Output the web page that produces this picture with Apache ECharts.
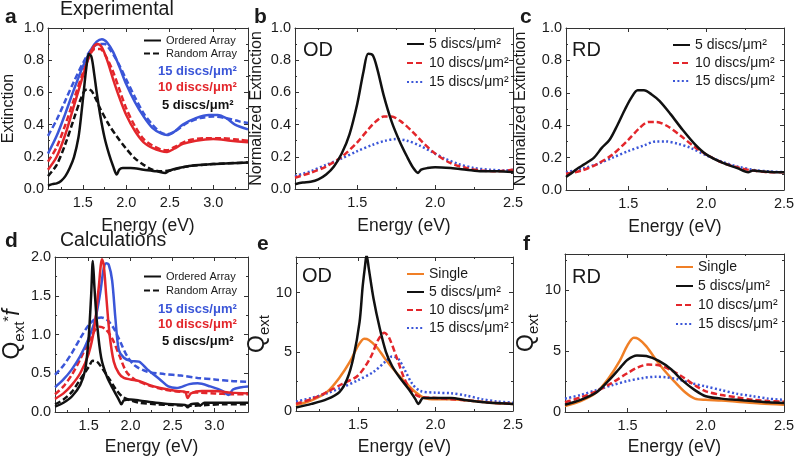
<!DOCTYPE html>
<html><head><meta charset="utf-8">
<script src="https://cdn.jsdelivr.net/npm/echarts@6/dist/echarts.min.js"></script>
<style>html,body{margin:0;padding:0;background:#fff}#c{width:798px;height:457px}</style>
</head><body><div id="c"></div>
<script>
// ---------------- DATA (energy eV, value) ----------------
// Panel a: Experimental extinction
const aOrd5 = [[1.1,0.02],[1.15,0.03],[1.2,0.035],[1.25,0.05],[1.3,0.08],[1.35,0.13],[1.4,0.2],[1.45,0.32],[1.48,0.45],[1.51,0.6],[1.54,0.75],[1.57,0.84],[1.6,0.82],[1.63,0.72],[1.66,0.6],[1.7,0.46],[1.75,0.32],[1.8,0.22],[1.85,0.14],[1.89,0.09],[1.92,0.12],[1.96,0.13],[2.05,0.13],[2.2,0.12],[2.35,0.11],[2.45,0.1],[2.5,0.115],[2.6,0.13],[2.75,0.145],[3.0,0.155],[3.2,0.16],[3.4,0.165]];
const aRand5 = [[1.1,0.08],[1.2,0.15],[1.3,0.28],[1.4,0.44],[1.47,0.55],[1.52,0.61],[1.56,0.62],[1.6,0.61],[1.65,0.56],[1.7,0.5],[1.8,0.4],[1.9,0.32],[2.0,0.25],[2.1,0.19],[2.2,0.15],[2.3,0.12],[2.4,0.11],[2.5,0.115],[2.7,0.14],[3.0,0.155],[3.4,0.165]];
const aOrd10 = [[1.1,0.12],[1.2,0.2],[1.3,0.34],[1.4,0.52],[1.5,0.7],[1.57,0.82],[1.62,0.88],[1.67,0.9],[1.72,0.88],[1.78,0.8],[1.85,0.68],[1.92,0.57],[2.0,0.46],[2.1,0.36],[2.2,0.29],[2.3,0.255],[2.4,0.235],[2.47,0.23],[2.55,0.25],[2.65,0.28],[2.8,0.3],[3.0,0.31],[3.2,0.3],[3.4,0.29]];
const aRand10 = [[1.1,0.17],[1.2,0.26],[1.3,0.4],[1.4,0.56],[1.5,0.72],[1.58,0.83],[1.64,0.87],[1.7,0.87],[1.76,0.83],[1.84,0.74],[1.92,0.62],[2.0,0.5],[2.1,0.39],[2.2,0.31],[2.3,0.27],[2.4,0.245],[2.47,0.24],[2.55,0.26],[2.7,0.3],[2.9,0.315],[3.1,0.315],[3.3,0.305],[3.4,0.3]];
const aOrd15 = [[1.1,0.22],[1.2,0.33],[1.3,0.47],[1.4,0.62],[1.5,0.76],[1.6,0.87],[1.66,0.915],[1.72,0.93],[1.78,0.91],[1.85,0.85],[1.92,0.76],[2.0,0.65],[2.1,0.54],[2.2,0.45],[2.3,0.38],[2.4,0.345],[2.47,0.335],[2.55,0.355],[2.65,0.4],[2.8,0.44],[2.95,0.46],[3.05,0.46],[3.15,0.44],[3.25,0.4],[3.4,0.37]];
const aRand15 = [[1.1,0.33],[1.2,0.43],[1.3,0.55],[1.4,0.67],[1.5,0.78],[1.6,0.87],[1.68,0.9],[1.75,0.9],[1.82,0.86],[1.9,0.79],[2.0,0.68],[2.1,0.57],[2.2,0.47],[2.3,0.4],[2.4,0.35],[2.47,0.34],[2.55,0.355],[2.7,0.41],[2.85,0.44],[3.0,0.45],[3.15,0.44],[3.3,0.42],[3.4,0.41]];
// Panel b: OD normalized
const bOD5 = [[1.1,0.03],[1.15,0.04],[1.2,0.045],[1.25,0.06],[1.3,0.09],[1.35,0.14],[1.4,0.22],[1.45,0.34],[1.5,0.53],[1.54,0.73],[1.57,0.84],[1.6,0.83],[1.63,0.74],[1.67,0.58],[1.72,0.42],[1.77,0.3],[1.82,0.2],[1.86,0.13],[1.89,0.1],[1.91,0.12],[1.95,0.13],[2.0,0.135],[2.1,0.13],[2.2,0.12],[2.3,0.11],[2.4,0.11],[2.5,0.105]];
const bOD10 = [[1.1,0.07],[1.2,0.1],[1.3,0.14],[1.4,0.2],[1.5,0.29],[1.57,0.37],[1.62,0.42],[1.67,0.45],[1.72,0.45],[1.78,0.42],[1.85,0.36],[1.92,0.29],[2.0,0.22],[2.1,0.16],[2.2,0.13],[2.3,0.115],[2.4,0.11],[2.5,0.12]];
const bOD15 = [[1.1,0.08],[1.2,0.11],[1.3,0.15],[1.4,0.19],[1.5,0.235],[1.6,0.275],[1.68,0.3],[1.75,0.31],[1.82,0.3],[1.9,0.27],[1.98,0.23],[2.06,0.19],[2.15,0.155],[2.25,0.13],[2.35,0.12],[2.45,0.115],[2.5,0.12]];
// Panel c: RD normalized
const cRD5 = [[1.1,0.08],[1.13,0.1],[1.17,0.13],[1.22,0.16],[1.28,0.2],[1.33,0.26],[1.38,0.31],[1.43,0.4],[1.48,0.5],[1.52,0.57],[1.56,0.615],[1.6,0.615],[1.65,0.59],[1.7,0.55],[1.77,0.47],[1.85,0.37],[1.93,0.28],[2.0,0.22],[2.1,0.17],[2.2,0.135],[2.27,0.11],[2.3,0.12],[2.35,0.115],[2.45,0.11],[2.5,0.11]];
const cRD10 = [[1.1,0.1],[1.2,0.12],[1.3,0.16],[1.4,0.22],[1.5,0.31],[1.57,0.38],[1.63,0.42],[1.68,0.42],[1.75,0.395],[1.83,0.34],[1.92,0.27],[2.0,0.22],[2.1,0.17],[2.2,0.14],[2.3,0.12],[2.4,0.11],[2.5,0.11]];
const cRD15 = [[1.1,0.11],[1.2,0.13],[1.3,0.16],[1.4,0.2],[1.5,0.24],[1.6,0.275],[1.68,0.3],[1.74,0.3],[1.82,0.285],[1.9,0.26],[2.0,0.215],[2.1,0.175],[2.2,0.145],[2.3,0.125],[2.4,0.115],[2.5,0.11]];
// Panel d: calculated Qext*f
const dOrd5 = [[1.1,0.07],[1.2,0.12],[1.3,0.2],[1.4,0.35],[1.46,0.55],[1.5,0.95],[1.53,1.5],[1.55,1.95],[1.57,1.6],[1.6,1.15],[1.65,0.7],[1.72,0.45],[1.8,0.28],[1.86,0.16],[1.89,0.1],[1.92,0.15],[2.0,0.16],[2.1,0.15],[2.3,0.12],[2.5,0.1],[2.65,0.09],[2.68,0.06],[2.72,0.1],[2.8,0.11],[2.83,0.085],[2.88,0.12],[3.0,0.12],[3.4,0.12]];
const dRand5 = [[1.1,0.1],[1.2,0.16],[1.3,0.26],[1.4,0.42],[1.5,0.58],[1.55,0.66],[1.6,0.65],[1.67,0.55],[1.75,0.42],[1.82,0.3],[1.9,0.2],[2.0,0.15],[2.1,0.12],[2.3,0.1],[2.5,0.09],[2.7,0.08],[2.9,0.09],[3.1,0.1],[3.4,0.1]];
const dOrd10 = [[1.1,0.17],[1.2,0.24],[1.3,0.35],[1.4,0.5],[1.5,0.75],[1.57,1.1],[1.62,1.6],[1.66,1.97],[1.68,1.9],[1.71,1.5],[1.75,1.0],[1.8,0.65],[1.86,0.5],[1.92,0.44],[2.0,0.42],[2.1,0.4],[2.25,0.34],[2.4,0.3],[2.55,0.27],[2.65,0.26],[2.68,0.18],[2.72,0.24],[2.85,0.27],[3.0,0.27],[3.2,0.25],[3.4,0.24]];
const dRand10 = [[1.1,0.23],[1.2,0.33],[1.3,0.48],[1.4,0.68],[1.5,0.9],[1.58,1.06],[1.63,1.1],[1.7,1.07],[1.78,0.95],[1.87,0.72],[1.95,0.52],[2.05,0.42],[2.2,0.35],[2.4,0.29],[2.6,0.26],[2.8,0.25],[3.0,0.24],[3.2,0.23],[3.4,0.23]];
const dOrd15 = [[1.1,0.32],[1.2,0.42],[1.3,0.55],[1.4,0.72],[1.5,0.95],[1.58,1.2],[1.64,1.55],[1.68,1.85],[1.71,1.92],[1.74,1.9],[1.78,1.7],[1.82,1.2],[1.86,0.8],[1.92,0.7],[2.0,0.66],[2.1,0.65],[2.2,0.55],[2.35,0.42],[2.45,0.33],[2.55,0.31],[2.7,0.36],[2.8,0.37],[2.95,0.33],[3.1,0.27],[3.17,0.22],[3.22,0.29],[3.32,0.32],[3.4,0.33]];
const dRand15 = [[1.1,0.48],[1.2,0.6],[1.3,0.76],[1.4,0.95],[1.5,1.12],[1.58,1.2],[1.65,1.22],[1.72,1.19],[1.8,1.08],[1.88,0.9],[1.96,0.72],[2.05,0.6],[2.2,0.52],[2.4,0.49],[2.6,0.47],[2.8,0.44],[3.0,0.42],[3.2,0.4],[3.4,0.39]];
// Panel e: OD Qext
const eSingle = [[1.1,0.5],[1.2,0.9],[1.3,1.6],[1.38,2.8],[1.45,4.2],[1.5,5.5],[1.54,6.1],[1.57,6.0],[1.62,5.4],[1.67,4.5],[1.73,3.5],[1.8,2.5],[1.87,1.6],[1.93,1.1],[2.0,1.0],[2.1,1.0],[2.2,0.9],[2.35,0.7],[2.5,0.6]];
const eOD5 = [[1.1,0.3],[1.2,0.6],[1.3,1.0],[1.38,1.6],[1.43,2.7],[1.47,4.5],[1.51,7.5],[1.53,10.5],[1.545,12.2],[1.555,13.2],[1.57,12.0],[1.6,9.5],[1.64,7.0],[1.68,5.0],[1.72,3.8],[1.77,2.8],[1.83,1.8],[1.87,1.0],[1.89,0.6],[1.92,1.1],[2.0,1.1],[2.1,1.1],[2.2,0.9],[2.35,0.7],[2.5,0.6]];
const eOD10 = [[1.1,0.6],[1.2,1.0],[1.3,1.6],[1.4,2.3],[1.5,3.0],[1.58,4.5],[1.63,6.0],[1.67,6.6],[1.7,6.2],[1.75,4.5],[1.8,2.7],[1.85,1.6],[1.9,1.2],[2.0,1.1],[2.1,1.0],[2.2,0.9],[2.35,0.7],[2.5,0.6]];
const eOD15 = [[1.1,0.8],[1.2,1.1],[1.3,1.5],[1.4,2.0],[1.5,2.6],[1.6,3.3],[1.68,4.2],[1.72,4.6],[1.76,4.4],[1.8,3.5],[1.85,2.3],[1.9,1.7],[2.0,1.55],[2.1,1.5],[2.2,1.3],[2.3,1.0],[2.4,0.8],[2.5,0.7]];
// Panel f: RD Qext
const fSingle = [[1.1,0.5],[1.2,0.9],[1.3,1.6],[1.38,2.8],[1.45,4.2],[1.5,5.5],[1.54,6.1],[1.57,6.0],[1.62,5.4],[1.67,4.5],[1.73,3.5],[1.8,2.5],[1.87,1.6],[1.93,1.1],[2.0,1.0],[2.1,0.95],[2.2,0.85],[2.35,0.7],[2.5,0.6]];
const fRD5 = [[1.1,0.6],[1.2,1.0],[1.3,1.6],[1.38,2.6],[1.45,3.6],[1.5,4.3],[1.56,4.65],[1.62,4.6],[1.7,4.2],[1.78,3.5],[1.85,2.6],[1.93,1.8],[2.0,1.3],[2.1,1.1],[2.2,1.0],[2.3,0.9],[2.4,0.8],[2.5,0.75]];
const fRD10 = [[1.1,0.8],[1.2,1.2],[1.3,1.7],[1.4,2.4],[1.5,3.2],[1.57,3.7],[1.63,3.9],[1.7,3.85],[1.77,3.5],[1.85,2.9],[1.93,2.2],[2.0,1.7],[2.1,1.4],[2.2,1.2],[2.3,1.0],[2.4,0.9],[2.5,0.85]];
const fRD15 = [[1.1,1.1],[1.2,1.4],[1.3,1.8],[1.4,2.2],[1.5,2.55],[1.6,2.8],[1.68,2.9],[1.75,2.85],[1.82,2.7],[1.9,2.4],[2.0,2.1],[2.1,1.8],[2.2,1.5],[2.3,1.3],[2.4,1.1],[2.5,1.0]];

// Labels
const densLabels = ['5 discs/μm²','10 discs/μm²','15 discs/μm²'];
const styleLabels = ['Ordered Array','Random Array'];
const singleLabel = 'Single';

// ---------------- CHART ----------------
const FONT = '"Liberation Sans", Arial, Helvetica, sans-serif';
const COL = {k:'#111111', r:'#e3262b', b:'#3b56d8', o:'#f07f26'};
const TXT = '#1a1a1a';
const DASH = [6,3], DOT = [2,2.4];

const panels = [
  {grid:{left:47,top:28,width:201,height:161}, x:[1.1,3.4], y:[0,1.0], yi:0.2, yd:1, yName:'Extinction', yGap:31, xGap:14},
  {grid:{left:295,top:28,width:218,height:161}, x:[1.1,2.5], y:[0,1.0], yi:0.2, yd:1, yName:'Normalized Extinction', yGap:30, xGap:14},
  {grid:{left:566,top:28,width:218,height:162}, x:[1.1,2.5], y:[0,1.0], yi:0.2, yd:1, yName:'Normalized Extinction', yGap:37, xGap:14},
  {grid:{left:46,top:257,width:202,height:161}, x:[1.1,3.4], y:[0,2.0], yi:0.5, yd:1, yName:'{q|Q}{s|ext}{u|*}{f|f}', yGap:24, xGap:12},
  {grid:{left:296,top:257,width:217,height:162}, x:[1.1,2.5], y:[0,13], yi:5, yd:0, yName:'{q|Q}{s|ext}', yGap:16, xGap:13},
  {grid:{left:565,top:254,width:219,height:167}, x:[1.1,2.5], y:[0,13], yi:5, yd:0, yName:'{q|Q}{s|ext}', yGap:20, xGap:12}
];

const richName = {
  q:{fontSize:23, fontFamily:FONT, color:TXT},
  s:{fontSize:15, fontFamily:FONT, color:TXT, verticalAlign:'bottom', padding:[0,0,-3,0]},
  u:{fontSize:15, fontFamily:FONT, color:TXT, verticalAlign:'top'},
  f:{fontSize:23, fontFamily:FONT, color:TXT, fontStyle:'italic'}
};

const grids = [], xAxes = [], yAxes = [];
const lineCol = '#333';
panels.forEach((p, i) => {
  grids.push(Object.assign({containLabel:false}, p.grid));
  const common = {gridIndex:i, type:'value', splitLine:{show:false},
    axisLine:{show:true, onZero:false, lineStyle:{color:lineCol, width:1}},
    axisTick:{show:true, inside:true, length:4, lineStyle:{color:lineCol}},
    minorTick:{show:true, inside:true, splitNumber:2, length:2, lineStyle:{color:lineCol}}};
  const xFmt = v => (Math.abs(v*2 - Math.round(v*2)) < 1e-6) ? v.toFixed(1) : '';
  const xBase = Object.assign({}, common, {min:p.x[0], max:p.x[1], minInterval:0.5, maxInterval:0.5, splitNumber:5});
  xAxes.push(Object.assign({}, xBase, {position:'bottom',
    axisLabel:{formatter:xFmt, fontSize:14.5, fontFamily:FONT, color:TXT, margin:6, showMinLabel:true},
    name:'Energy (eV)', nameLocation:'middle', nameGap:p.xGap + 14,
    nameTextStyle:{fontSize:17.5, fontFamily:FONT, color:TXT}}));
  xAxes.push(Object.assign({}, xBase, {position:'top', axisLabel:{show:false}}));
  const yFmt = v => { const k = v / p.yi; return Math.abs(k - Math.round(k)) < 1e-6 ? v.toFixed(p.yd) : ''; };
  const yBase = Object.assign({}, common, {min:p.y[0], max:p.y[1], interval:p.yi});
  const rich = p.yName.indexOf('{') === 0;
  yAxes.push(Object.assign({}, yBase, {position:'left',
    axisLabel:{formatter:yFmt, fontSize:14.5, fontFamily:FONT, color:TXT, margin:4},
    name:p.yName, nameLocation:'middle', nameGap:p.yGap,
    nameTextStyle: rich ? {fontSize:23, fontFamily:FONT, color:TXT, rich:richName} : {fontSize:16, fontFamily:FONT, color:TXT}}));
  yAxes.push(Object.assign({}, yBase, {position:'right', axisLabel:{show:false}}));
});

function ln(name, panel, data, color, type, width) {
  return {type:'line', name, xAxisIndex:panel*2, yAxisIndex:panel*2, data,
    showSymbol:false, symbol:'none', smooth:0.3, animation:false, silent:true,
    lineStyle:{color, width:width||2.5, type:type||'solid'}, itemStyle:{color}, z:3};
}

const series = [
  // panel a
  ln('a-rand-5',0,aRand5,COL.k,DASH), ln('a-rand-10',0,aRand10,COL.r,DASH), ln('a-rand-15',0,aRand15,COL.b,DASH),
  ln('a-ord-15',0,aOrd15,COL.b), ln('a-ord-10',0,aOrd10,COL.r), ln('a-ord-5',0,aOrd5,COL.k),
  ln(styleLabels[0],0,[],COL.k,'solid',2.8), ln(styleLabels[1],0,[],COL.k,DASH,2.8),
  // panel b
  ln(densLabels[2],1,bOD15,COL.b,DOT), ln(densLabels[1],1,bOD10,COL.r,DASH), ln(densLabels[0],1,bOD5,COL.k),
  // panel c
  ln(densLabels[2],2,cRD15,COL.b,DOT), ln(densLabels[1],2,cRD10,COL.r,DASH), ln(densLabels[0],2,cRD5,COL.k),
  // panel d
  ln('d-rand-5',3,dRand5,COL.k,DASH), ln('d-rand-10',3,dRand10,COL.r,DASH), ln('d-rand-15',3,dRand15,COL.b,DASH),
  ln('d-ord-15',3,dOrd15,COL.b), ln('d-ord-10',3,dOrd10,COL.r), ln('d-ord-5',3,dOrd5,COL.k),
  // panel e
  ln(singleLabel,4,eSingle,COL.o), ln(densLabels[2],4,eOD15,COL.b,DOT), ln(densLabels[1],4,eOD10,COL.r,DASH), ln(densLabels[0],4,eOD5,COL.k),
  // panel f
  ln(singleLabel,5,fSingle,COL.o), ln(densLabels[2],5,fRD15,COL.b,DOT), ln(densLabels[1],5,fRD10,COL.r,DASH), ln(densLabels[0],5,fRD5,COL.k)
];

function lg(left, top, data, fs, gap) {
  return {left, top, orient:'vertical', data, selectedMode:false, itemWidth:17, itemHeight:10, itemGap:gap,
    padding:0, itemStyle:{opacity:0},
    textStyle:{fontSize:fs, lineHeight:fs, fontFamily:FONT, color:TXT}};
}
const legends = [
  lg(143, 35, styleLabels, 11, 2),
  lg(143, 271, styleLabels, 11, 3),
  lg(406, 37, densLabels, 14, 5),
  lg(672, 38, densLabels, 14, 4),
  lg(406, 267, [singleLabel].concat(densLabels), 14, 4),
  lg(675, 260, [singleLabel].concat(densLabels), 14, 5)
];

function tx(text, left, top, size, opts) {
  return {type:'text', left, top, silent:true, z:10,
    style:Object.assign({text, fontSize:size, fontFamily:FONT, fill:TXT}, opts||{})};
}
const graphic = [
  tx('a',5,7,21,{fontWeight:'bold'}), tx('Experimental',60,0,19.5),
  tx('b',254,7,21,{fontWeight:'bold'}), tx('c',520,7,21,{fontWeight:'bold'}),
  tx('d',5,231,21,{fontWeight:'bold'}), tx('Calculations',60,231,19.5),
  tx('e',257,234,21,{fontWeight:'bold'}), tx('f',523,234,21,{fontWeight:'bold'}),
  tx('OD',303,40,20), tx('RD',572,40,20), tx('OD',302,266,20), tx('RD',572,267,20),
  tx(densLabels[2],158,65,13,{fontWeight:'bold', fill:COL.b}),
  tx(densLabels[1],158,81,13,{fontWeight:'bold', fill:COL.r}),
  tx(densLabels[0],162,99,13,{fontWeight:'bold', fill:COL.k}),
  tx(densLabels[2],158,303,13,{fontWeight:'bold', fill:COL.b}),
  tx(densLabels[1],158,318,13,{fontWeight:'bold', fill:COL.r}),
  tx(densLabels[0],162,335,13,{fontWeight:'bold', fill:COL.k})
];

const chart = echarts.init(document.getElementById('c'), null, {renderer:'canvas'});
chart.setOption({animation:false, backgroundColor:'#fff', grid:grids, xAxis:xAxes, yAxis:yAxes,
  series, legend:legends, graphic, tooltip:{show:false}});
</script></body></html>
